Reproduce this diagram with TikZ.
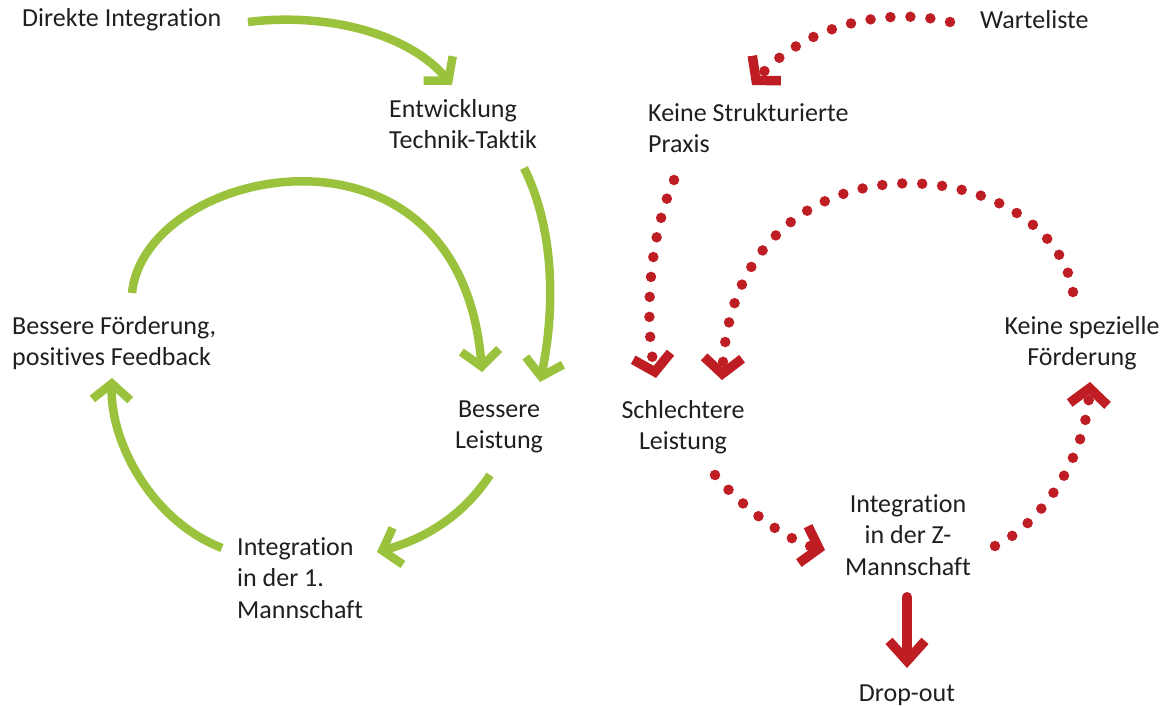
\documentclass[tikz,border=0pt]{standalone}
\usepackage{fontspec}
\setmainfont{Carlito}[Ligatures={NoCommon}]
\usetikzlibrary{arrows.meta}
\definecolor{lgreen}{RGB}{155,194,60}
\definecolor{dred}{RGB}{190,30,35}
\begin{document}
\begin{tikzpicture}[x=1pt,y=-1pt,
  lbl/.style={font=\fontsize{26}{31.5}\selectfont, inner sep=0pt, text=black!88},
  garrow/.style={draw=lgreen, line width=8.5pt, -{Straight Barb[length=16pt,width=38pt,line width=8.5pt]}},
  rarrow/.style={draw=dred, line width=10.5pt, line cap=round, dash pattern=on 0pt off 20pt, -{Straight Barb[length=16pt,width=38pt,line width=9.5pt]}},
  rsolid/.style={draw=dred, line width=10pt, line cap=round, -{Straight Barb[length=20pt,width=36pt,line width=9.5pt]}}
]
\useasboundingbox (0,0) rectangle (1164,706);
% nodes
\node[lbl, anchor=west] (dir) at (22,20) {Direkte Integration};
\node[lbl, anchor=west, align=left] (ent) at (389,124) {Entwicklung\\Technik-Taktik};
\node[lbl, anchor=west, align=left] (bf) at (12,343) {Bessere Förderung,\\positives Feedback};
\node[lbl, align=center] (bl) at (499,427) {Bessere\\Leistung};
\node[lbl, anchor=west, align=left] (i1) at (237,578) {Integration\\in der 1.\\Mannschaft};
\node[lbl, anchor=west] (wl) at (980,20) {Warteliste};
\node[lbl, anchor=west, align=left] (ks) at (648,128) {Keine Strukturierte\\Praxis};
\node[lbl, align=center] (sl) at (683,427) {Schlechtere\\Leistung};
\node[lbl, align=center] (ksp) at (1082,343) {Keine spezielle\\Förderung};
\node[lbl, align=center] (iz) at (908,535) {Integration\\in der Z-\\Mannschaft};
\node[lbl] (dro) at (907,695) {Drop-out};
% green cycle
\draw[garrow] ([shift={(226,2)}]dir.west) .. controls +(82,-10) and +(-42,-50) .. ([shift={(63,-39)}]ent.west);
\draw[garrow] ([shift={(135,44)}]ent.west) .. controls +(31,62) and +(15,-72) .. ([shift={(41,-45)}]bl.center);
\draw[garrow] ([shift={(120,-50)}]bf.west) .. controls +(13,-128) and +(-22,-272) .. ([shift={(-17,-55)}]bl.center);
\draw[garrow] ([shift={(-9,48)}]bl.center) .. controls +(-30,45) and +(43,-12) .. ([shift={(140,-26)}]i1.west);
\draw[garrow] ([shift={(-15,-30)}]i1.west) .. controls +(-72,-28) and +(-2,62) .. ([shift={(100,35)}]bf.west);
% red cycle
\draw[rarrow] ([shift={(-30,2)}]wl.west) .. controls +(-70,-17) and +(48,-55) .. ([shift={(104,-43)}]ks.west);
\draw[rarrow] ([shift={(26,52)}]ks.west) .. controls +(-26,60) and +(-11,-58) .. ([shift={(-27,-49)}]sl.center);
\draw[rarrow] ([shift={(-9,-51)}]ksp.center) .. controls +(-23,-142) and +(13,-260) .. ([shift={(39,-47)}]sl.center);
\draw[rarrow] ([shift={(32,48)}]sl.center) .. controls +(25,30) and +(-40,-10) .. ([shift={(-83,15)}]iz.center);
\draw[rarrow] ([shift={(87,11)}]iz.center) .. controls +(45,-21) and +(-5,78) .. ([shift={(8,39)}]ksp.center);
\draw[rsolid] ([shift={(-1,62)}]iz.center) -- ([shift={(0,-27)}]dro.center);
\end{tikzpicture}
\end{document}
